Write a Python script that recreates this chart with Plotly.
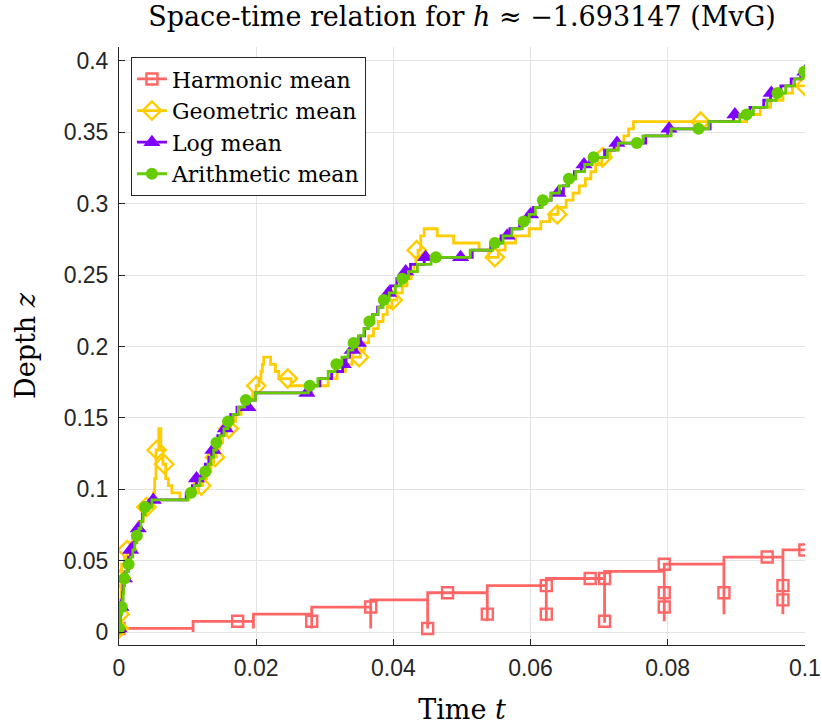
import plotly.graph_objects as go

# ---------------------------------------------------------------------------
# Front depth z over time t for four averaging schemes of the conductivity.
# Each line is a staircase (vertices joined horizontally then vertically);
# the marker lists hold the sampled points that carry symbols.
# ---------------------------------------------------------------------------

# Harmonic mean
harm_t = [0.0000, 0.0108, 0.0108, 0.0196, 0.0196, 0.0281, 0.0281, 0.0367, 0.0367,
          0.0450, 0.0450, 0.0537, 0.0537, 0.0623, 0.0623, 0.0708, 0.0708, 0.0795,
          0.0795, 0.0882, 0.0882, 0.0968, 0.0968, 0.1000]
harm_z = [0.0025, 0.0000, 0.0075, 0.0025, 0.0125, 0.0025, 0.0175, 0.0025, 0.0225,
          0.0025, 0.0275, 0.0075, 0.0325, 0.0075, 0.0375, 0.0065, 0.0425, 0.0075,
          0.0475, 0.0125, 0.0525, 0.0125, 0.0575, 0.0575]
harm_mark_t = [0.0000, 0.0173, 0.0281, 0.0367, 0.0450, 0.0479, 0.0537, 0.0623, 0.0623,
               0.0687, 0.0708, 0.0708, 0.0795, 0.0795, 0.0795, 0.0882, 0.0945, 0.0968,
               0.0968, 0.1000]
harm_mark_z = [0.0025, 0.0075, 0.0075, 0.0175, 0.0025, 0.0275, 0.0125, 0.0325, 0.0125,
               0.0375, 0.0375, 0.0075, 0.0475, 0.0275, 0.0175, 0.0275, 0.0525, 0.0325,
               0.0225, 0.0575]

# Geometric mean
geo_t = [0.0000, 0.0001, 0.0002, 0.0003, 0.0004, 0.0008, 0.0012, 0.0016, 0.0020,
         0.0025, 0.0030, 0.0035, 0.0040, 0.0046, 0.0050, 0.0052, 0.0054, 0.0058,
         0.0061, 0.0064, 0.0068, 0.0072, 0.0077, 0.0089, 0.0102, 0.0116, 0.0122,
         0.0128, 0.0134, 0.0138, 0.0142, 0.0146, 0.0151, 0.0157, 0.0163, 0.0170,
         0.0178, 0.0187, 0.0195, 0.0200, 0.0204, 0.0207, 0.0209, 0.0211, 0.0221,
         0.0228, 0.0233, 0.0251, 0.0305, 0.0318, 0.0330, 0.0340, 0.0352, 0.0358,
         0.0364, 0.0371, 0.0378, 0.0385, 0.0391, 0.0398, 0.0405, 0.0413, 0.0420,
         0.0426, 0.0430, 0.0433, 0.0436, 0.0440, 0.0445, 0.0464, 0.0488, 0.0525,
         0.0539, 0.0553, 0.0563, 0.0578, 0.0598, 0.0615, 0.0628, 0.0640, 0.0652,
         0.0662, 0.0671, 0.0680, 0.0688, 0.0695, 0.0704, 0.0716, 0.0726, 0.0736,
         0.0743, 0.0750, 0.0915, 0.0935, 0.0950, 0.0968, 0.0982, 0.1000]
geo_z = [0.0025, 0.0125, 0.0225, 0.0375, 0.0475, 0.0525, 0.0575, 0.0625, 0.0675,
         0.0725, 0.0775, 0.0825, 0.0875, 0.0925, 0.0975, 0.1075, 0.1275, 0.1425,
         0.1275, 0.1175, 0.1075, 0.1025, 0.0975, 0.0925, 0.0975, 0.1025, 0.1075,
         0.1125, 0.1175, 0.1225, 0.1275, 0.1325, 0.1375, 0.1425, 0.1475, 0.1525,
         0.1575, 0.1625, 0.1675, 0.1725, 0.1775, 0.1825, 0.1875, 0.1925, 0.1875,
         0.1825, 0.1775, 0.1725, 0.1775, 0.1825, 0.1875, 0.1925, 0.1975, 0.2025,
         0.2075, 0.2125, 0.2175, 0.2225, 0.2275, 0.2325, 0.2375, 0.2425, 0.2475,
         0.2525, 0.2575, 0.2625, 0.2675, 0.2775, 0.2825, 0.2775, 0.2725, 0.2675,
         0.2625, 0.2675, 0.2725, 0.2775, 0.2825, 0.2875, 0.2925, 0.2975, 0.3025,
         0.3075, 0.3125, 0.3175, 0.3225, 0.3275, 0.3325, 0.3375, 0.3425, 0.3475,
         0.3525, 0.3575, 0.3625, 0.3675, 0.3725, 0.3775, 0.3825, 0.3825]
geo_mark_t = [0.0000, 0.0001, 0.0003, 0.0012, 0.0040, 0.0055, 0.0066, 0.0120, 0.0140,
              0.0160, 0.0200, 0.0246, 0.0350, 0.0399, 0.0434, 0.0548, 0.0639, 0.0705,
              0.0848, 0.1000]
geo_mark_z = [0.0025, 0.0125, 0.0375, 0.0575, 0.0875, 0.1275, 0.1175, 0.1025, 0.1225,
              0.1425, 0.1725, 0.1775, 0.1925, 0.2325, 0.2675, 0.2625, 0.2925, 0.3325,
              0.3575, 0.3825]

# Depth levels shared by the log- and arithmetic-mean staircases
level_z = [0.0025, 0.0075, 0.0125, 0.0175, 0.0225, 0.0275, 0.0325, 0.0375, 0.0425,
           0.0475, 0.0525, 0.0575, 0.0625, 0.0675, 0.0725, 0.0775, 0.0825, 0.0875,
           0.0925, 0.0975, 0.1025, 0.1075, 0.1125, 0.1175, 0.1225, 0.1275, 0.1325,
           0.1375, 0.1425, 0.1475, 0.1525, 0.1575, 0.1625, 0.1675, 0.1725, 0.1775,
           0.1825, 0.1875, 0.1925, 0.1975, 0.2025, 0.2075, 0.2125, 0.2175, 0.2225,
           0.2275, 0.2325, 0.2375, 0.2425, 0.2475, 0.2525, 0.2575, 0.2625, 0.2675,
           0.2725, 0.2775, 0.2825, 0.2875, 0.2925, 0.2975, 0.3025, 0.3075, 0.3125,
           0.3175, 0.3225, 0.3275, 0.3325, 0.3375, 0.3425, 0.3475, 0.3525, 0.3575,
           0.3625, 0.3675, 0.3725, 0.3775, 0.3825, 0.3875, 0.3925, 0.3925]

# Log mean: time at which each level is reached
log_t = [0.0000, 0.0001, 0.0002, 0.0003, 0.0004, 0.0005, 0.0006, 0.0008, 0.0010,
         0.0012, 0.0014, 0.0017, 0.0020, 0.0023, 0.0027, 0.0031, 0.0034, 0.0037,
         0.0045, 0.0098, 0.0107, 0.0113, 0.0120, 0.0126, 0.0131, 0.0135, 0.0139,
         0.0144, 0.0150, 0.0156, 0.0163, 0.0172, 0.0190, 0.0199, 0.0280, 0.0293,
         0.0310, 0.0326, 0.0331, 0.0336, 0.0346, 0.0352, 0.0358, 0.0364, 0.0370,
         0.0377, 0.0383, 0.0389, 0.0396, 0.0405, 0.0414, 0.0425, 0.0445, 0.0515,
         0.0542, 0.0557, 0.0570, 0.0584, 0.0595, 0.0604, 0.0614, 0.0630, 0.0648,
         0.0655, 0.0664, 0.0674, 0.0686, 0.0708, 0.0722, 0.0768, 0.0800, 0.0862,
         0.0896, 0.0920, 0.0940, 0.0950, 0.0965, 0.0980, 0.0994, 0.1000]
log_mark_t = [0.0000, 0.0003, 0.0008, 0.0017, 0.0028, 0.0050, 0.0113, 0.0137, 0.0155,
              0.0188, 0.0274, 0.0327, 0.0340, 0.0349, 0.0393, 0.0418, 0.0447, 0.0498,
              0.0566, 0.0600, 0.0640, 0.0678, 0.0726, 0.0802, 0.0898, 0.0951, 0.1000]
log_mark_z = [0.0025, 0.0175, 0.0375, 0.0575, 0.0725, 0.0925, 0.1075, 0.1275, 0.1425,
              0.1575, 0.1675, 0.1875, 0.1975, 0.2025, 0.2375, 0.2525, 0.2625, 0.2625,
              0.2775, 0.2925, 0.3075, 0.3275, 0.3425, 0.3525, 0.3625, 0.3775, 0.3925]

# Arithmetic mean: time at which each level is reached
arith_t = [0.0000, 0.0001, 0.0002, 0.0004, 0.0005, 0.0006, 0.0007, 0.0008, 0.0010,
           0.0014, 0.0017, 0.0020, 0.0023, 0.0026, 0.0029, 0.0032, 0.0035, 0.0038,
           0.0048, 0.0100, 0.0110, 0.0118, 0.0124, 0.0130, 0.0134, 0.0138, 0.0142,
           0.0147, 0.0153, 0.0159, 0.0166, 0.0174, 0.0183, 0.0199, 0.0276, 0.0290,
           0.0305, 0.0315, 0.0325, 0.0334, 0.0341, 0.0349, 0.0357, 0.0364, 0.0371,
           0.0378, 0.0385, 0.0394, 0.0403, 0.0411, 0.0422, 0.0435, 0.0455, 0.0512,
           0.0545, 0.0560, 0.0573, 0.0588, 0.0598, 0.0607, 0.0617, 0.0630, 0.0642,
           0.0654, 0.0666, 0.0679, 0.0690, 0.0712, 0.0728, 0.0764, 0.0805, 0.0860,
           0.0905, 0.0925, 0.0945, 0.0958, 0.0972, 0.0985, 0.0997, 0.1000]
arith_mark_t = [0.0000, 0.0004, 0.0008, 0.0014, 0.0026, 0.0038, 0.0105, 0.0126, 0.0142,
                0.0159, 0.0185, 0.0278, 0.0317, 0.0342, 0.0365, 0.0386, 0.0413, 0.0462,
                0.0548, 0.0590, 0.0618, 0.0656, 0.0692, 0.0755, 0.0845, 0.0915, 0.0960,
                0.0999]
arith_mark_z = [0.0025, 0.0175, 0.0375, 0.0475, 0.0675, 0.0875, 0.0975, 0.1125, 0.1325,
                0.1475, 0.1625, 0.1725, 0.1875, 0.2025, 0.2175, 0.2325, 0.2475, 0.2625,
                0.2725, 0.2875, 0.3025, 0.3175, 0.3325, 0.3425, 0.3525, 0.3625, 0.3775,
                0.3925]

x_ticks = [0, 0.02, 0.04, 0.06, 0.08, 0.1]
x_tick_text = ["0", "0.02", "0.04", "0.06", "0.08", "0.1"]
y_ticks = [0, 0.05, 0.1, 0.15, 0.2, 0.25, 0.3, 0.35, 0.4]
y_tick_text = ["0", "0.05", "0.1", "0.15", "0.2", "0.25", "0.3", "0.35", "0.4"]

SERIF = "DejaVu Serif, Liberation Serif, serif"
SANS = "Liberation Sans, Arial, Helvetica, sans-serif"
INK = "#262626"
LW = 2.8

series = [
    ("Harmonic mean", "#FF6666", harm_t, harm_z, harm_mark_t, harm_mark_z,
     dict(symbol="square-open", size=11, line=dict(width=2.4, color="#FF6666"))),
    ("Geometric mean", "#FFCC00", geo_t, geo_z, geo_mark_t, geo_mark_z,
     dict(symbol="diamond-open", size=14, line=dict(width=2.4, color="#FFCC00"))),
    ("Log mean", "#7F00FF", log_t, level_z, log_mark_t, log_mark_z,
     dict(symbol="triangle-up", size=15, color="#7F00FF", line=dict(width=0))),
    ("Arithmetic mean", "#66CC00", arith_t, level_z, arith_mark_t, arith_mark_z,
     dict(symbol="circle", size=12, color="#66CC00", line=dict(width=0))),
]


def gapped(values):
    """Interleave None so that lines+markers draws isolated symbols only."""
    out = []
    for v in values:
        out.extend([v, None])
    return out


fig = go.Figure()
for name, color, lt, lz, mt, mz, mk in series:
    fig.add_trace(go.Scatter(
        x=lt, y=lz, mode="lines", line=dict(color=color, width=LW, shape="hv"),
        legendgroup=name, showlegend=False, hoverinfo="skip"))
    fig.add_trace(go.Scatter(
        x=gapped(mt), y=gapped(mz), mode="lines+markers", name=name,
        legendgroup=name, connectgaps=False,
        line=dict(color=color, width=LW), marker=mk))

axis_common = dict(
    showline=True, linecolor=INK, linewidth=1,
    ticks="inside", ticklen=6, tickwidth=1, tickcolor=INK,
    showgrid=True, gridcolor="#E3E3E3", gridwidth=1,
    zeroline=False, mirror=False, automargin=False,
    tickfont=dict(family=SANS, size=23, color=INK),
    ticklabeloverflow="allow",
)

fig.update_xaxes(range=[0, 0.10002], tickvals=x_ticks, ticktext=x_tick_text,
                 title=dict(text="Time <i>t</i>", font=dict(family=SERIF, size=27, color="black"),
                            standoff=20),
                 ticklabelstandoff=2,
                 **axis_common)
fig.update_yaxes(range=[-0.0091, 0.4098], tickvals=y_ticks, ticktext=y_tick_text,
                 title=dict(text="Depth <i>z</i>", font=dict(family=SERIF, size=27, color="black"),
                            standoff=20),
                 ticklabelstandoff=5,
                 **axis_common)

fig.update_layout(
    width=822, height=728,
    margin=dict(l=119, r=17, t=47, b=83, pad=0),
    paper_bgcolor="white", plot_bgcolor="white",
    title=dict(text="Space-time relation for <i>h</i> ≈ −1.693147 (MvG)",
               font=dict(family=SERIF, size=27, color="black"),
               x=0.5, xref="paper", xanchor="center",
               y=0.99, yref="container", yanchor="top"),
    legend=dict(x=0.0174, y=0.983, xanchor="left", yanchor="top",
                bgcolor="white", bordercolor=INK, borderwidth=1,
                font=dict(family=SERIF, size=22, color="black"),
                tracegroupgap=0, itemwidth=30),
    showlegend=True,
)

fig.write_html("out.html")
